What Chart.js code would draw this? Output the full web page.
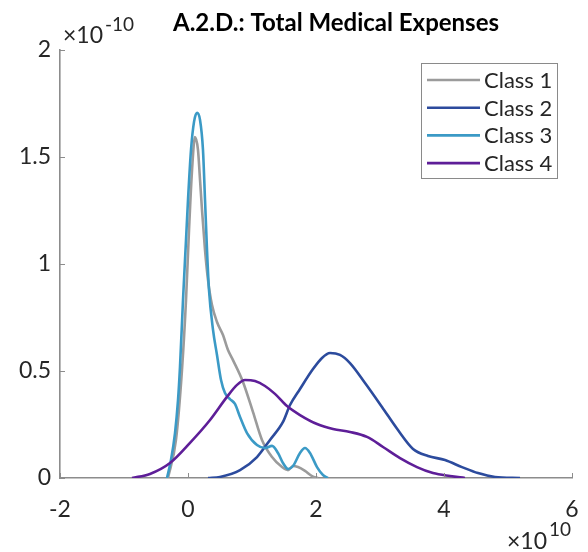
<!DOCTYPE html>
<html>
<head>
<meta charset="utf-8">
<script src="https://cdn.jsdelivr.net/npm/chart.js@4.4.1/dist/chart.umd.min.js"></script>
<style>
  html, body { margin: 0; padding: 0; background: #ffffff; }
  #wrap { width: 588px; height: 552px; }
</style>
</head>
<body>
<div id="wrap"><canvas id="c" width="588" height="552"></canvas></div>
<script>
// ---- data (x in units of 1e10, density in units of 1e-10) ----
const seriesNames = ['Class 1', 'Class 2', 'Class 3', 'Class 4'];
const seriesColors = ['#9b9b9b', '#2c4b9d', '#3b9ac6', '#5e1e98'];

const class1X = [-0.313, -0.188, -0.094, -0.031, 0.016, 0.063, 0.109, 0.156, 0.188, 0.219, 0.266, 0.313, 0.375, 0.453, 0.547, 0.625, 0.703, 0.859, 1.016, 1.156, 1.313, 1.469, 1.563, 1.641, 1.719, 1.828, 1.938, 2.031];
const class1Y = [0, 0.178, 0.505, 0.832, 1.159, 1.439, 1.593, 1.533, 1.393, 1.252, 1.065, 0.925, 0.808, 0.729, 0.668, 0.598, 0.551, 0.449, 0.308, 0.178, 0.098, 0.051, 0.037, 0.056, 0.051, 0.033, 0.009, 0];

const class2X = [0.313, 0.5, 0.813, 1.078, 1.281, 1.484, 1.594, 1.750, 1.953, 2.094, 2.219, 2.375, 2.531, 2.766, 3.031, 3.281, 3.516, 3.750, 4.016, 4.281, 4.531, 4.797, 5.188];
const class2Y = [0, 0.005, 0.037, 0.098, 0.178, 0.262, 0.341, 0.416, 0.509, 0.561, 0.584, 0.575, 0.537, 0.444, 0.332, 0.224, 0.136, 0.103, 0.084, 0.051, 0.023, 0.005, 0];

const class3X = [-0.328, -0.266, -0.203, -0.156, -0.125, -0.078, -0.031, 0.0, 0.047, 0.094, 0.141, 0.188, 0.234, 0.266, 0.297, 0.328, 0.391, 0.453, 0.516, 0.578, 0.656, 0.734, 0.813, 0.922, 1.078, 1.203, 1.313, 1.406, 1.484, 1.563, 1.641, 1.750, 1.828, 1.906, 2.016, 2.109, 2.188];
const class3Y = [0, 0.084, 0.210, 0.364, 0.519, 0.832, 1.112, 1.299, 1.533, 1.664, 1.706, 1.673, 1.533, 1.299, 1.065, 0.879, 0.692, 0.575, 0.458, 0.397, 0.369, 0.346, 0.285, 0.210, 0.154, 0.140, 0.150, 0.117, 0.070, 0.042, 0.056, 0.117, 0.140, 0.117, 0.051, 0.014, 0];

const class4X = [-0.875, -0.594, -0.281, 0.031, 0.344, 0.609, 0.766, 0.891, 1.047, 1.203, 1.359, 1.547, 1.750, 2.016, 2.266, 2.531, 2.797, 3.047, 3.313, 3.578, 3.828, 4.094, 4.328];
const class4Y = [0, 0.019, 0.070, 0.164, 0.271, 0.379, 0.435, 0.458, 0.453, 0.430, 0.393, 0.336, 0.294, 0.252, 0.229, 0.215, 0.192, 0.145, 0.093, 0.051, 0.023, 0.009, 0];

const xTicks = [-2, 0, 2, 4, 6];
const yTicks = [0, 0.5, 1, 1.5, 2];
const xTickLabels = ['-2', '0', '2', '4', '6'];
const yTickLabels = ['0', '0.5', '1', '1.5', '2'];
const titleText = 'A.2.D.: Total Medical Expenses';

// ---- build ----
const allX = [class1X, class2X, class3X, class4X];
const allY = [class1Y, class2Y, class3Y, class4Y];
const datasets = seriesNames.map((name, i) => ({
  label: name,
  data: allX[i].map((x, k) => ({ x: x, y: allY[i][k] })),
  borderColor: seriesColors[i],
  backgroundColor: seriesColors[i],
  borderWidth: 2.6,
  pointRadius: 0,
  showLine: true,
  fill: false,
  cubicInterpolationMode: 'monotone',
  order: seriesNames.length - i
}));

const FONT = 'Lato';
const TXT = '#262626';

const deco = {
  id: 'deco',
  afterDraw(chart) {
    const ctx = chart.ctx;
    const xs = chart.scales.x, ys = chart.scales.y;
    const ca = chart.chartArea;
    ctx.save();
    // inward tick marks
    ctx.strokeStyle = '#8c8c8c';
    ctx.lineWidth = 1;
    xTicks.forEach(v => {
      const px = Math.round(xs.getPixelForValue(v)) + 0.5;
      ctx.beginPath(); ctx.moveTo(px, ca.bottom); ctx.lineTo(px, ca.bottom - 5); ctx.stroke();
    });
    yTicks.forEach(v => {
      const py = Math.round(ys.getPixelForValue(v)) + 0.5;
      ctx.beginPath(); ctx.moveTo(ca.left, py); ctx.lineTo(ca.left + 5, py); ctx.stroke();
    });
    // title
    ctx.fillStyle = '#000';
    ctx.font = 'bold 24px ' + FONT;
    ctx.textAlign = 'center';
    ctx.textBaseline = 'alphabetic';
    ctx.fillText(titleText, 336, 31);
    // exponent labels
    ctx.fillStyle = TXT;
    ctx.textAlign = 'left';
    ctx.font = '23px ' + FONT;
    ctx.fillText('\u00d710', 63, 43);
    let w = ctx.measureText('\u00d710').width;
    ctx.font = '19px ' + FONT;
    ctx.fillText('-10', 63 + w + 2, 31);
    ctx.font = '23px ' + FONT;
    ctx.fillText('\u00d710', 507, 549);
    w = ctx.measureText('\u00d710').width;
    ctx.font = '19px ' + FONT;
    ctx.fillText('10', 507 + w + 2, 536);
    // legend
    const bx = 421.5, by = 63.5, bw = 136, bh = 115;
    ctx.fillStyle = '#fff';
    ctx.fillRect(bx, by, bw, bh);
    ctx.strokeStyle = '#8a8a8a';
    ctx.lineWidth = 1;
    ctx.strokeRect(bx, by, bw, bh);
    chart.data.datasets.forEach((ds, i) => {
      const yy = 80 + i * 27.7;
      ctx.strokeStyle = ds.borderColor;
      ctx.lineWidth = 2.6;
      ctx.beginPath(); ctx.moveTo(427, yy); ctx.lineTo(480, yy); ctx.stroke();
      ctx.fillStyle = TXT;
      ctx.font = '22px ' + FONT;
      ctx.textAlign = 'left';
      ctx.textBaseline = 'middle';
      ctx.fillText(ds.label, 484, yy + 1);
    });
    ctx.restore();
  }
};

new Chart(document.getElementById('c'), {
  type: 'scatter',
  data: { datasets: datasets },
  options: {
    responsive: false,
    animation: false,
    events: [],
    layout: { padding: { top: 50, right: 16, bottom: 0, left: 0 } },
    plugins: { legend: { display: false }, tooltip: { enabled: false }, title: { display: false } },
    scales: {
      x: {
        type: 'linear', min: -2, max: 6,
        afterBuildTicks: s => { s.ticks = xTicks.map(v => ({ value: v })); },
        afterFit: s => { s.height = 74; s.paddingLeft = 0; s.paddingRight = 0; },
        grid: { display: false, drawTicks: false },
        border: { display: true, color: '#8c8c8c', width: 1.6 },
        ticks: {
          color: TXT, font: { family: FONT, size: 23 }, padding: 18, maxRotation: 0,
          callback: (v) => xTickLabels[xTicks.indexOf(v)]
        }
      },
      y: {
        type: 'linear', min: 0, max: 2,
        afterBuildTicks: s => { s.ticks = yTicks.map(v => ({ value: v })); },
        afterFit: s => { s.width = 60; s.paddingTop = 0; s.paddingBottom = 0; },
        grid: { display: false, drawTicks: false },
        border: { display: true, color: '#8c8c8c', width: 1.6 },
        ticks: {
          color: TXT, font: { family: FONT, size: 23 }, padding: 9,
          callback: (v) => yTickLabels[yTicks.indexOf(v)]
        }
      }
    }
  },
  plugins: [deco]
});
</script>
</body>
</html>
